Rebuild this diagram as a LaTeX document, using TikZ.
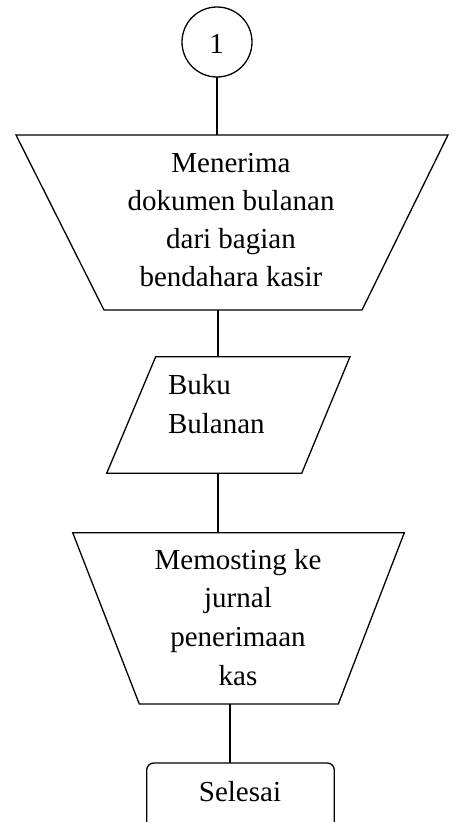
\documentclass[tikz,border=0pt]{standalone}
\usepackage{fontspec}
\setmainfont{Liberation Serif}
\begin{document}
\begin{tikzpicture}[x=1pt,y=-1pt,
  shapeline/.style={draw=black,line width=1.3pt,line join=miter},
  conn/.style={draw=black,line width=1.3pt},
  lbl/.style={font=\fontsize{29}{38.2}\selectfont,inner sep=0pt,outer sep=0pt}]
\useasboundingbox (0,0) rectangle (455,822);
% connector 1
\draw[shapeline] (217,42) circle [radius=35pt];
\node[lbl,anchor=base] (one) at (216.5,53.3) {1};
\coordinate (c1b) at (217,77);
\coordinate (t1t) at (217,135);
% trapezoid 1
\draw[shapeline] (16,135) -- (448,135) -- (362,310) -- (104,310) -- cycle;
\node[lbl,anchor=base,align=center] (t1) at (231,286.7) {Menerima\\dokumen bulanan\\dari bagian\\bendahara kasir};
\coordinate (t1b) at (218,310);
% parallelogram
\draw[shapeline] (155.7,356.7) -- (350,356.7) -- (301.7,473.3) -- (106.7,473.3) -- cycle;
\node[lbl,anchor=base west,align=left,font=\fontsize{29}{39.3}\selectfont] (buku) at (168,433.3) {Buku\\Bulanan};
\coordinate (pt) at (218,356.7);
\coordinate (pb) at (218,473.3);
% trapezoid 2
\draw[shapeline] (72.7,532.7) -- (404.3,532.7) -- (338.3,704) -- (139.3,704) -- cycle;
\node[lbl,anchor=base,align=center,font=\fontsize{29}{38.6}\selectfont] (t2) at (238,685) {Memosting ke\\jurnal\\penerimaan\\kas};
\coordinate (t2t) at (218,532.7);
\coordinate (t2b) at (230,704);
% terminator
\draw[shapeline,rounded corners=7pt] (146.7,763) rectangle (334.3,840);
\node[lbl,anchor=base] (end) at (240,801.7) {Selesai};
\coordinate (et) at (230,763);
% connectors
\draw[conn] (c1b) -- (t1t);
\draw[conn] (t1b) -- (pt);
\draw[conn] (pb) -- (t2t);
\draw[conn] (t2b) -- (et);
\end{tikzpicture}
\end{document}
